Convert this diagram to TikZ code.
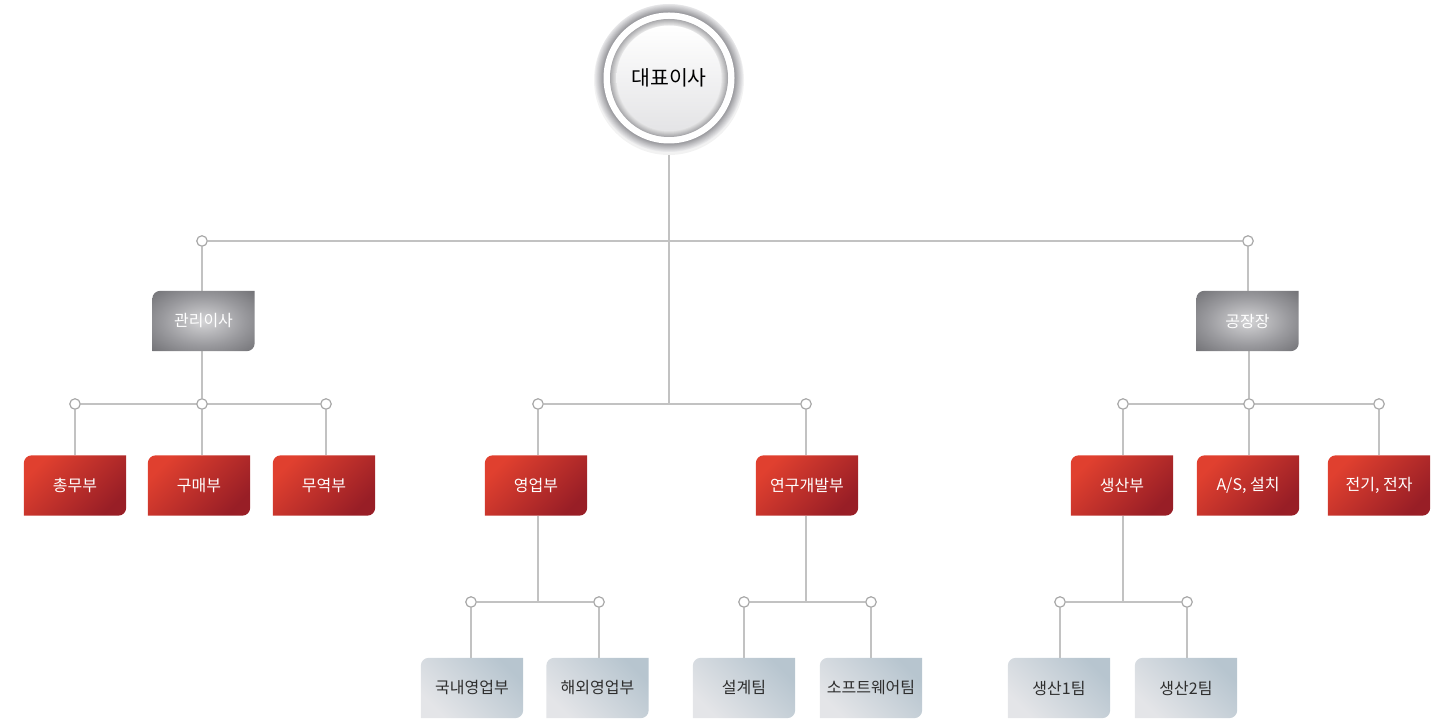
\documentclass[tikz,border=0pt]{standalone}
\usepackage{fontspec}
\setmainfont{Noto Sans CJK KR}
\definecolor{redA}{HTML}{E0402F}
\definecolor{redB}{HTML}{981E26}
\definecolor{grayC}{HTML}{D4D4D6}
\definecolor{grayM}{HTML}{9A9A9E}
\definecolor{grayE}{HTML}{6C6C70}
\definecolor{paleA}{HTML}{E4E5E8}
\definecolor{paleB}{HTML}{B7C5CF}
\definecolor{lineC}{HTML}{C2C2C2}
\definecolor{dotC}{HTML}{A8A8A8}
\definecolor{ringD}{HTML}{9A9A9E}
\definecolor{ringL}{HTML}{EAEAEC}
\definecolor{ringM}{HTML}{A8A8AB}
\definecolor{innerB}{HTML}{E4E4E6}
\definecolor{txtD}{HTML}{2E2E2E}
\pgfdeclareradialshading{grayrad}{\pgfpointorigin}{color(0bp)=(grayC); color(20bp)=(grayM); color(38bp)=(grayE); color(50bp)=(grayE)}
\pgfdeclarelayer{bg}
\pgfsetlayers{bg,main}
\newcommand{\boxshape}[2]{%
  \path[#2] (#1.south west) -- ([yshift=-8pt]#1.north west)
    arc[start angle=180,end angle=90,radius=8pt] -- (#1.north east)
    -- ([yshift=8pt]#1.south east)
    arc[start angle=0,end angle=-90,radius=8pt] -- cycle;}
\tikzset{
  orgbox/.style={minimum width=102pt,minimum height=60pt,inner sep=0pt,
    font=\fontsize{16}{19}\selectfont},
  redbox/.style={orgbox,text=white},
  graybox/.style={orgbox,text=white},
  palebox/.style={orgbox,text=txtD},
  dot/.style={circle,draw=dotC,line width=1.2pt,fill=white,minimum size=10.5pt,inner sep=0pt},
  conn/.style={draw=lineC,line width=1.5pt}
}
\begin{document}
\begin{tikzpicture}[x=1pt,y=1pt]
\useasboundingbox (0,0) rectangle (1432,720);
% root
\node[circle,minimum size=148pt,inner sep=0pt,font=\fontsize{20.5}{24}\selectfont] (ceo) at (669,642) {대표이사};
% top bus
\node[dot] (c1) at (202,479) {};
\node[dot] (c2) at (1248,479) {};
\coordinate (jM) at (669,316);
% level 1
\node[graybox] (mgr) at (203.5,399) {관리이사};
\node[graybox] (fac) at (1247.5,399) {공장장};
% level 2 dots
\node[dot] (a1) at (75,316) {};
\node[dot] (a2) at (202,316) {};
\node[dot] (a3) at (326,316) {};
\node[dot] (m1) at (538,316) {};
\node[dot] (m2) at (806,316) {};
\node[dot] (r1) at (1123,316) {};
\node[dot] (r2) at (1249,316) {};
\node[dot] (r3) at (1379,316) {};
% level 2 boxes
\node[redbox] (gen) at (75,234.5) {총무부};
\node[redbox] (buy) at (199,234.5) {구매부};
\node[redbox] (trade) at (324,234.5) {무역부};
\node[redbox] (sales) at (536,234.5) {영업부};
\node[redbox] (rnd) at (807,234.5) {연구개발부};
\node[redbox] (prod) at (1122,234.5) {생산부};
\node[redbox] (as) at (1248,234.5) {A/S, 설치};
\node[redbox] (elec) at (1379,234.5) {전기, 전자};
% level 3
\coordinate (jS) at (538,118);
\coordinate (jR) at (806,118);
\coordinate (jP) at (1123,118);
\node[dot] (s1) at (471,118) {};
\node[dot] (s2) at (599,118) {};
\node[dot] (d1) at (744,118) {};
\node[dot] (d2) at (871,118) {};
\node[dot] (p1) at (1060,118) {};
\node[dot] (p2) at (1187,118) {};
\node[palebox] (dom) at (472,32) {국내영업부};
\node[palebox] (ovs) at (597.5,32) {해외영업부};
\node[palebox] (des) at (744,32) {설계팀};
\node[palebox] (sw) at (871,32) {소프트웨어팀};
\node[palebox] (pt1) at (1059,32) {생산1팀};
\node[palebox] (pt2) at (1186,32) {생산2팀};

\begin{pgfonlayer}{bg}
  % connectors
  \draw[conn] (ceo) -- (jM);
  \draw[conn] (c1) -- (c2);
  \draw[conn] (c1) -- (c1 |- mgr.north);
  \draw[conn] (c2) -- (c2 |- fac.north);
  \draw[conn] (a1) -- (a3);
  \draw[conn] (a2 |- mgr.south) -- (a2);
  \draw[conn] (m1) -- (m2);
  \draw[conn] (r1) -- (r3);
  \draw[conn] (r2 |- fac.south) -- (r2);
  \draw[conn] (a1) -- (a1 |- gen.north);
  \draw[conn] (a2) -- (a2 |- buy.north);
  \draw[conn] (a3) -- (a3 |- trade.north);
  \draw[conn] (m1) -- (m1 |- sales.north);
  \draw[conn] (m2) -- (m2 |- rnd.north);
  \draw[conn] (r1) -- (r1 |- prod.north);
  \draw[conn] (r2) -- (r2 |- as.north);
  \draw[conn] (r3) -- (r3 |- elec.north);
  \draw[conn] (jS |- sales.south) -- (jS);
  \draw[conn] (jR |- rnd.south) -- (jR);
  \draw[conn] (jP |- prod.south) -- (jP);
  \draw[conn] (s1) -- (s2);
  \draw[conn] (d1) -- (d2);
  \draw[conn] (p1) -- (p2);
  \draw[conn] (s1) -- (s1 |- dom.north);
  \draw[conn] (s2) -- (s2 |- ovs.north);
  \draw[conn] (d1) -- (d1 |- des.north);
  \draw[conn] (d2) -- (d2 |- sw.north);
  \draw[conn] (p1) -- (p1 |- pt1.north);
  \draw[conn] (p2) -- (p2 |- pt2.north);
  % root circle: outer bevel ring
  \fill[black!5] ([yshift=-2pt]ceo.center) circle (75pt);
  \foreach \i in {0,...,20} {
    \pgfmathtruncatemacro\pp{\i*5}
    \fill[ringD!\pp!ringL] (ceo.center) circle ({74-0.4*\i});
  }
  \fill[white] (ceo.center) circle (65.5pt);
  \foreach \i in {0,...,12} {
    \pgfmathtruncatemacro\pp{100-\i*6}
    \fill[ringM!\pp!white] (ceo.center) circle ({59-0.5*\i});
  }
  \path[top color=white,bottom color=innerB] (ceo.center) circle (52.5pt);
  % boxes
  \foreach \n in {mgr,fac} {\boxshape{\n}{shading=grayrad}}
  \foreach \n in {gen,buy,trade,sales,rnd,prod,as,elec} {\boxshape{\n}{top color=redA,bottom color=redB,shading angle=45}}
  \foreach \n in {dom,ovs,des,sw,pt1,pt2} {\boxshape{\n}{top color=paleB,bottom color=paleA,shading angle=-45}}
\end{pgfonlayer}
\end{tikzpicture}
\end{document}
